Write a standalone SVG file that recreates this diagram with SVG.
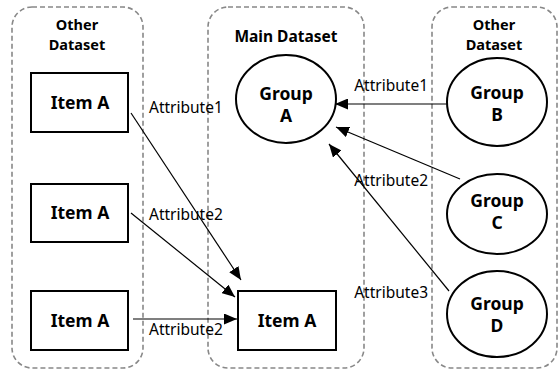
<svg xmlns="http://www.w3.org/2000/svg" width="558" height="370" viewBox="0 0 558 370">
<style>
.cont{fill:none;stroke:#888;stroke-width:1.6;stroke-dasharray:5,3}
.node{fill:#fff;stroke:#000;stroke-width:2}
.nt{font-family:"Noto Sans","Open Sans",sans-serif;font-weight:bold;font-size:17.5px;text-anchor:middle;fill:#000}
.ht{font-family:"Noto Sans","Open Sans",sans-serif;font-weight:bold;font-size:14.5px;text-anchor:middle;fill:#000}
.lbl{font-family:"Noto Sans","Open Sans",sans-serif;font-size:15.5px;fill:#000}
.edge{stroke:#000;stroke-width:1.2;fill:none;marker-end:url(#arr)}
</style>
<defs>
<marker id="arr" markerUnits="userSpaceOnUse" markerWidth="13" markerHeight="11" refX="13" refY="5.5" orient="auto">
<path d="M0,0 L13,5.5 L0,11 z" fill="#000"/>
</marker>
</defs>
<g id="other-left">
<rect class="cont" x="12" y="7" width="131" height="361" rx="20"/>
<text class="ht" x="77" y="30">Other</text>
<text class="ht" x="77" y="50">Dataset</text>
</g>
<g id="main">
<rect class="cont" x="208" y="7" width="156" height="361" rx="20"/>
<text class="ht" x="286" y="42" style="font-size:15.5px">Main Dataset</text>
</g>
<g id="other-right">
<rect class="cont" x="432" y="7" width="125" height="361" rx="20"/>
<text class="ht" x="494" y="30">Other</text>
<text class="ht" x="494" y="50">Dataset</text>
</g>
<g id="itemA1"><rect class="node" x="31" y="73" width="97" height="59"/><text class="nt" x="80" y="109">Item A</text></g>
<g id="itemA2"><rect class="node" x="31" y="184" width="97" height="58"/><text class="nt" x="80" y="219">Item A</text></g>
<g id="itemA3"><rect class="node" x="31" y="291" width="97" height="59"/><text class="nt" x="80" y="327">Item A</text></g>
<g id="itemAmain"><rect class="node" x="238" y="291" width="98" height="59"/><text class="nt" x="287" y="327">Item A</text></g>
<g id="groupA"><ellipse class="node" cx="286" cy="99" rx="50" ry="44"/><text class="nt" x="286" y="100">Group</text><text class="nt" x="286" y="122">A</text></g>
<g id="groupB"><ellipse class="node" cx="497" cy="102" rx="50" ry="44"/><text class="nt" x="497" y="99">Group</text><text class="nt" x="497" y="121">B</text></g>
<g id="groupC"><ellipse class="node" cx="497" cy="214" rx="50" ry="40"/><text class="nt" x="497" y="207">Group</text><text class="nt" x="497" y="229">C</text></g>
<g id="groupD"><ellipse class="node" cx="497" cy="314" rx="50" ry="43"/><text class="nt" x="497" y="310">Group</text><text class="nt" x="497" y="332">D</text></g>
<g id="connectors">
<line class="edge" x1="131" y1="113" x2="241" y2="280"/>
<line class="edge" x1="131" y1="213" x2="235" y2="297"/>
<line class="edge" x1="133" y1="319" x2="237" y2="319"/>
<line class="edge" x1="447" y1="104" x2="335" y2="104"/>
<line class="edge" x1="460" y1="179" x2="336" y2="127"/>
<line class="edge" x1="449" y1="291" x2="329" y2="144"/>
<text class="lbl" x="149" y="113">Attribute1</text>
<text class="lbl" x="149" y="220">Attribute2</text>
<text class="lbl" x="149" y="335">Attribute2</text>
<text class="lbl" x="428" y="91" text-anchor="end">Attribute1</text>
<text class="lbl" x="428" y="186" text-anchor="end">Attribute2</text>
<text class="lbl" x="428" y="298" text-anchor="end">Attribute3</text>
</g>
</svg>
